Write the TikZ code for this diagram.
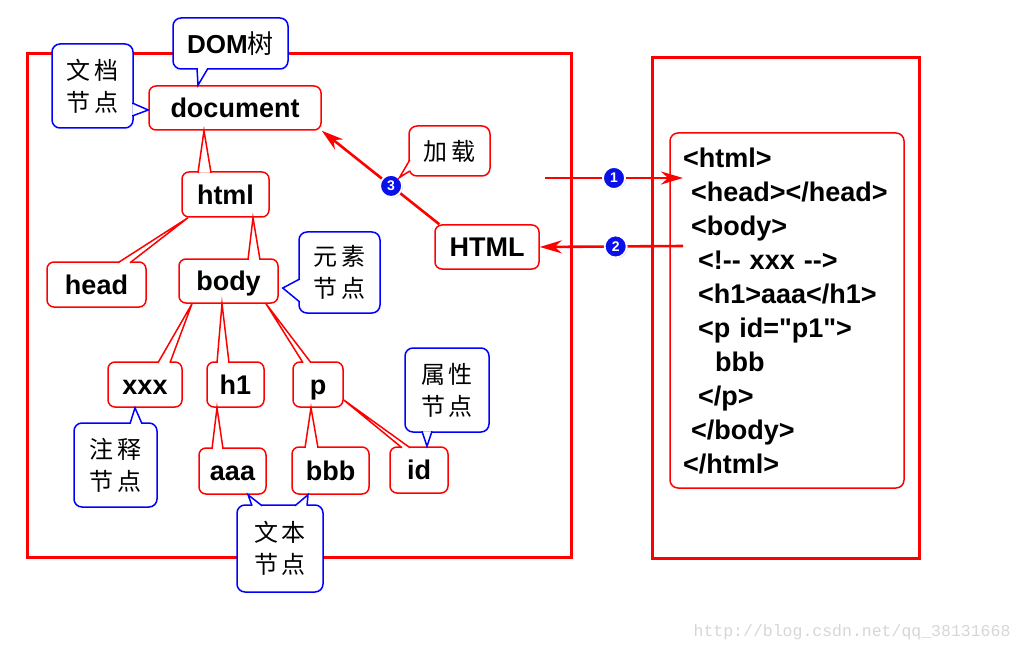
\documentclass[tikz,border=0pt]{standalone}
\usepackage{fontspec}
\setmainfont{Liberation Sans}
\newfontfamily\codefont{Liberation Sans}[Ligatures=TeXOff]
\newfontfamily\cjk{Noto Sans CJK SC}
\newfontfamily\wmfont{Liberation Mono}
\usepackage{tikz}
\usetikzlibrary{arrows.meta, shadows}
\definecolor{dotblue}{HTML}{0A10E8}
\definecolor{wmgray}{HTML}{D6D6D6}

\tikzset{
  frame/.style={draw=red, line width=3pt},
  tnode/.style={draw=red, line width=1.5pt, rounded corners=7pt, fill=white,
    inner sep=0pt, text height=19.5pt, text depth=0pt,
    font=\bfseries\fontsize{27}{30}\selectfont},
  bubble/.style={draw=blue, line width=1.5pt, rounded corners=8pt, fill=white,
    inner sep=0pt, align=center, font=\cjk\fontsize{24}{32}\selectfont},
  tline/.style={draw=red, line width=1.5pt, fill=white},
  bline/.style={draw=blue, line width=1.5pt, fill=white},
  flow/.style={red, line width=2.6pt, -{Stealth[length=22pt, width=13pt, inset=7pt]}},
  numdot/.style={circle, fill=dotblue, draw=white, line width=1.8pt, minimum size=22pt,
    inner sep=0pt, text=white, font=\bfseries\fontsize{14}{14}\selectfont,
    drop shadow={shadow xshift=1pt, shadow yshift=-1pt, opacity=0.35}},
}

\begin{document}
\begin{tikzpicture}[x=1pt, y=-1pt]
  \useasboundingbox (0,0) rectangle (1024,652);

  % the two frames
  \draw[frame] (27,54) rectangle (571,557);
  \draw[frame] (652,58) rectangle (919,558);

  % source code
  \node[draw=red, line width=1.5pt, rounded corners=8pt, text width=208pt,
        inner xsep=13pt, minimum height=355pt, inner ysep=0pt, align=left,
        font=\codefont\bfseries\fontsize{27}{34}\selectfont] (code) at (787,310.5) {%
    <html>\\
    \hspace*{8pt}<head></head>\\
    \hspace*{8pt}<body>\\
    \hspace*{15pt}<!-- xxx -->\\
    \hspace*{15pt}<h1>aaa</h1>\\
    \hspace*{15pt}<p id="p1">\\
    \hspace*{32pt}bbb\\
    \hspace*{15pt}</p>\\
    \hspace*{8pt}</body>\\
    </html>};

  % DOM tree
  \node[tnode, minimum width=172pt, minimum height=44pt] (document) at (235,108) {document};
  \node[tnode, minimum width=87pt,  minimum height=45pt] (html) at (225.5,194.5) {html};
  \node[tnode, minimum width=99pt,  minimum height=45pt] (head) at (96.5,284.5) {head};
  \node[tnode, minimum width=99pt,  minimum height=44pt] (body) at (228.5,281) {body};
  \node[tnode, minimum width=74pt,  minimum height=45pt] (xxx) at (145,384.5) {xxx};
  \node[tnode, minimum width=57pt,  minimum height=45pt] (h1) at (235.5,384.5) {h1};
  \node[tnode, minimum width=50pt,  minimum height=45pt] (p) at (318,384.5) {p};
  \node[tnode, minimum width=67pt,  minimum height=46pt] (aaa) at (232.5,471) {aaa};
  \node[tnode, minimum width=77pt,  minimum height=47pt] (bbb) at (330.5,470.5) {bbb};
  \node[tnode, minimum width=58pt,  minimum height=46pt] (id) at (419,470) {id};
  \node[tnode, minimum width=104pt, minimum height=44pt] (HTML) at (487,247) {HTML};

  % branch tips on the parents
  \coordinate (t-html) at ([xshift=-31pt]document.south);
  \coordinate (t-head) at ([xshift=-37.5pt]html.south);
  \coordinate (t-body) at ([xshift=27.5pt]html.south);
  \coordinate (t-xxx) at ([xshift=-36.5pt]body.south);
  \coordinate (t-h1) at ([xshift=-6.5pt]body.south);
  \coordinate (t-p) at ([xshift=37.5pt]body.south);
  \coordinate (t-aaa) at ([xshift=-18.5pt]h1.south);
  \coordinate (t-bbb) at ([xshift=-7pt]p.south);
  \coordinate (t-id) at ([yshift=-15.5pt]p.east);

  \foreach \c/\a/\b in {html/-27.5/-14.5, head/21.5/33.5, body/19.5/31.5,
                        xxx/13/25, h1/-18.5/-6.5, p/-15/-7,
                        aaa/-20.5/-9.5, bbb/-25.5/-12.5, id/-17/-9}
    \filldraw[tline] ([xshift=\a pt, yshift=-1.5pt]\c.north) -- (t-\c)
      -- ([xshift=\b pt, yshift=-1.5pt]\c.north);

  % notes
  \node[bubble, minimum width=115pt, minimum height=51pt,
        font=\bfseries\fontsize{26}{30}\selectfont] (domnote) at (230.5,43.5)
        {DOM{\cjk\mdseries 树}};
  \node[bubble, minimum width=81pt, minimum height=84pt] (docnote) at (92.5,86)
        {文\hspace{4pt}档\\节\hspace{4pt}点};
  \node[bubble, minimum width=81pt, minimum height=81pt] (elemnote) at (339.5,272.5)
        {元\hspace{4pt}素\\节\hspace{4pt}点};
  \node[bubble, minimum width=83pt, minimum height=84pt] (cmtnote) at (115.5,465)
        {注\hspace{4pt}释\\节\hspace{4pt}点};
  \node[bubble, minimum width=86pt, minimum height=87pt] (txtnote) at (280,548.5)
        {文\hspace{4pt}本\\节\hspace{4pt}点};
  \node[bubble, minimum width=84pt, minimum height=84pt] (attrnote) at (447,390)
        {属\hspace{4pt}性\\节\hspace{4pt}点};
  \node[bubble, draw=red, minimum width=81pt, minimum height=50pt] (loadnote) at (449.5,151)
        {加\hspace{4pt}载};

  \filldraw[bline] ([xshift=-33.5pt, yshift=1.5pt]domnote.south)
    -- ([xshift=-37pt]document.north) -- ([xshift=-22.5pt, yshift=1.5pt]domnote.south);
  \filldraw[bline] ([xshift=-1.5pt, yshift=-17pt]docnote.east)
    -- ([yshift=-2pt]document.west) -- ([xshift=-1.5pt, yshift=-30pt]docnote.east);
  \filldraw[bline] ([xshift=1.5pt, yshift=-6.5pt]elemnote.west)
    -- ([xshift=4pt, yshift=-7pt]body.east) -- ([xshift=1.5pt, yshift=-29.5pt]elemnote.west);
  \filldraw[bline] ([xshift=14.5pt, yshift=-1.5pt]cmtnote.north)
    -- ([xshift=-10pt]xxx.south) -- ([xshift=26.5pt, yshift=-1.5pt]cmtnote.north);
  \filldraw[bline] ([xshift=-28pt, yshift=-1.5pt]txtnote.north)
    -- ([xshift=15.5pt]aaa.south) -- ([xshift=-18pt, yshift=-1.5pt]txtnote.north);
  \filldraw[bline] ([xshift=15pt, yshift=-1.5pt]txtnote.north)
    -- ([xshift=-22.5pt]bbb.south) -- ([xshift=27pt, yshift=-1.5pt]txtnote.north);
  \filldraw[bline] ([xshift=-25pt, yshift=1.5pt]attrnote.south)
    -- ([xshift=8pt]id.north) -- ([xshift=-15pt, yshift=1.5pt]attrnote.south);

  % loading
  \coordinate (out1) at (545,178);
  \coordinate (in1) at (683,178);
  \coordinate (out2) at (683,246);
  \draw[flow] (out1) -- node[numdot, pos=0.5] {1} (in1);
  \draw[flow] (out2) -- node[numdot, pos=0.47] {2} (HTML.east);
  \draw[flow] ([xshift=5pt]HTML.north west) -- node[numdot, pos=0.41] (n3) {3}
    (document.south east);
  \filldraw[tline] ([xshift=1.5pt, yshift=-9pt]loadnote.west) -- (n3.north east)
    -- ([xshift=1.5pt, yshift=-20pt]loadnote.west);

  \node[anchor=east, text=wmgray, font=\wmfont\fontsize{16.5}{18}\selectfont] (mark)
    at (1014,632) {http://blog.csdn.net/qq\_38131668};
\end{tikzpicture}
\end{document}
